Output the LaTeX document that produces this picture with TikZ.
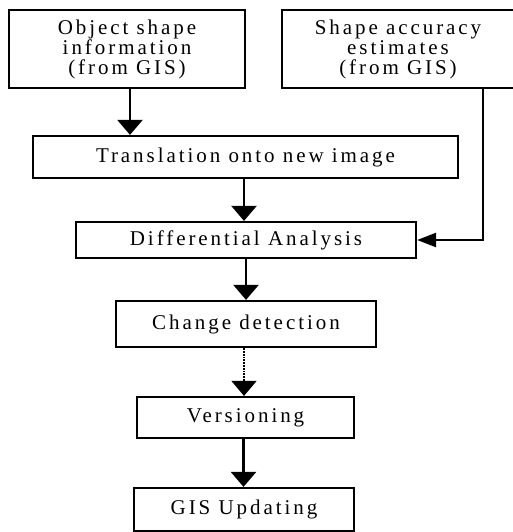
\documentclass[tikz,border=0pt]{standalone}
\usepackage{fontspec}
\setmainfont{Liberation Serif}[LetterSpace=14]
\usetikzlibrary{arrows.meta}
\begin{document}
\begin{tikzpicture}[x=1pt,y=-1pt,
  box/.style={draw=black,line width=2.2pt,rectangle,inner sep=0pt,align=center,
    font=\fontsize{21}{20}\selectfont},
  varr/.style={line width=2.4pt,-{Triangle[width=25pt,length=15pt]}},
  harr/.style={line width=2.4pt,-{Triangle[width=14pt,length=19pt]}},
  darr/.style={line width=1.8pt,densely dotted,-{Triangle[width=25pt,length=15pt]}}]
\useasboundingbox (0,0) rectangle (512,532);
\node[box,minimum width=236pt,minimum height=78pt] (b1) at (127,49) {Object shape\\information\\(from GIS)};
\node[box,minimum width=232pt,minimum height=78pt] (b2) at (398,49) {Shape accuracy\\estimates\\(from GIS)};
\node[box,minimum width=425pt,minimum height=42pt] (b3) at (245.5,157) {Translation onto new image};
\node[box,minimum width=340pt,minimum height=36pt] (b4) at (246,240) {Differential Analysis};
\node[box,minimum width=260pt,minimum height=46pt] (b5) at (246,324) {Change detection};
\node[box,minimum width=217pt,minimum height=41pt] (b6) at (245.5,417.5) {Versioning};
\node[box,minimum width=220pt,minimum height=43pt] (b7) at (244,509.5) {GIS Updating};
\draw[varr] ([xshift=3pt]b1.south) -- ([xshift=3pt]b1.south |- b3.north);
\draw[varr] ([xshift=-1.5pt]b3.south) -- ([xshift=-1.5pt]b3.south |- b4.north);
\draw[varr] (b4.south) -- (b4.south |- b5.north);
\draw[darr] ([xshift=-2pt]b5.south) -- ([xshift=-2pt]b5.south |- b6.north);
\draw[varr] ([xshift=-2pt]b6.south) -- ([xshift=-2pt]b6.south |- b7.north);
\draw[harr] ([xshift=85pt]b2.south) |- (b4.east);
\end{tikzpicture}
\end{document}
